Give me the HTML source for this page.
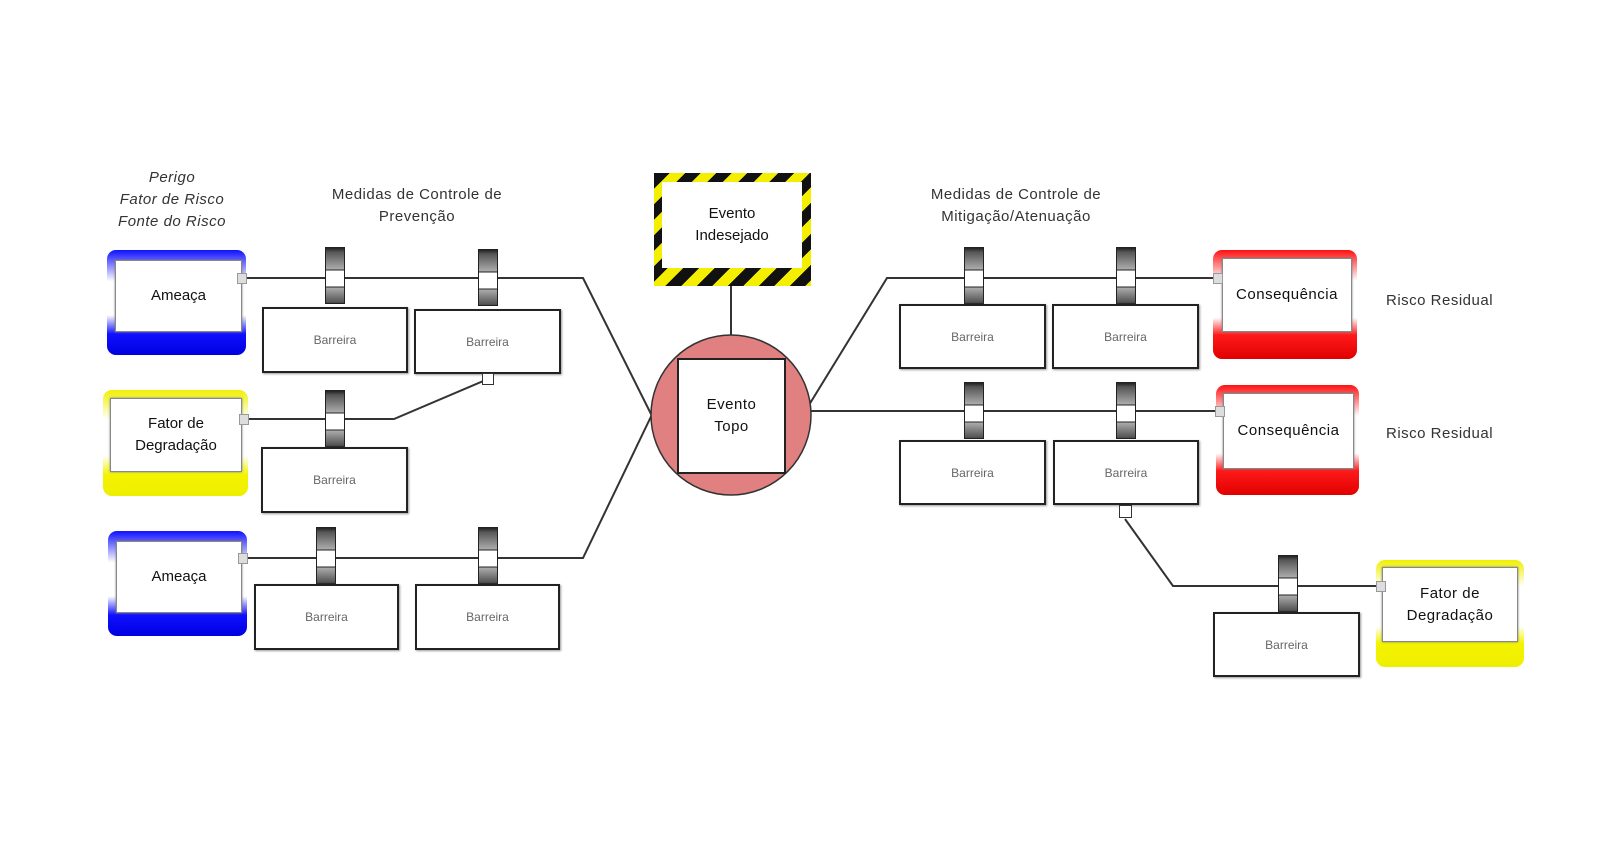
<!DOCTYPE html>
<html><head><meta charset="utf-8">
<style>
body{margin:0;width:1620px;height:850px;background:#fff;position:relative;overflow:hidden;font-family:"Liberation Sans",sans-serif;}
.a{position:absolute;}
.gb{position:absolute;border-radius:9px;box-sizing:border-box;}
.in{position:absolute;background:#fff;border:1px solid #888;box-shadow:0 0 2px #777;display:flex;align-items:center;justify-content:center;text-align:center;font-size:15px;color:#111;line-height:22px;}
.bar{position:absolute;width:20px;height:57px;box-sizing:border-box;border:1px solid #222;
background:linear-gradient(to bottom,#222 0,#555 4px,#aaa 21px,#222 22px,#fff 23px,#fff 38px,#222 39px,#aaa 40px,#555 54px,#222 57px);}
.bx{position:absolute;box-sizing:border-box;border:2px solid #222;background:#fff;box-shadow:1px 1px 2px #999;display:flex;align-items:center;justify-content:center;font-size:12px;color:#666;}
.cn{position:absolute;width:10px;height:11px;background:#ddd;border:1px solid #999;box-sizing:border-box;}
.t{position:absolute;text-align:center;font-size:15px;color:#333;line-height:22px;letter-spacing:0.5px;}
</style></head><body>
<svg class="a" style="left:0;top:0" width="1620" height="850">
<g stroke="#333" stroke-width="2" fill="none">
<polyline points="247,278 583,278 658,428"/>
<polyline points="247,558 583,558 658,402"/>
<polyline points="247,419 394,419 488,379"/>
<line x1="731" y1="286" x2="731" y2="336"/>
<polyline points="809,405 887,278 1213,278"/>
<line x1="811" y1="411" x2="1216" y2="411"/>
<polyline points="1125,519 1173,586 1376,586"/>
</g>
<ellipse cx="731" cy="415" rx="80" ry="80" fill="#e08080" stroke="#333" stroke-width="1.5"/>
<rect x="678" y="359" width="107" height="114" fill="#fff" stroke="#222" stroke-width="2"/>
</svg>

<!-- Hazard -->
<div class="a" style="left:654px;top:173px;width:157px;height:113px;background:repeating-linear-gradient(135deg,#111 0 11px,#f4ee00 11px 22px);"></div>
<div class="in" style="left:662px;top:182px;width:140px;height:86px;border:none;box-shadow:none;font-size:15px;">Evento<br>Indesejado</div>
<div class="t" style="left:678px;top:394px;width:107px;color:#111;">Evento<br>Topo</div>

<!-- Left texts -->
<div class="t" style="left:92px;top:167px;width:160px;font-style:italic;">Perigo<br>Fator de Risco<br>Fonte do Risco</div>
<div class="t" style="left:297px;top:184px;width:240px;">Medidas de Controle de<br>Prevenção</div>
<div class="t" style="left:896px;top:184px;width:240px;">Medidas de Controle de<br>Mitigação/Atenuação</div>
<div class="t" style="left:1386px;top:290px;">Risco Residual</div>
<div class="t" style="left:1386px;top:423px;">Risco Residual</div>

<!-- Ameaça 1 -->
<div class="gb" style="left:107px;top:250px;width:139px;height:105px;background:linear-gradient(#1010ff 0,#fff 30%,#fff 62%,#1010ff 80%,#0000e0 100%);"></div>
<div class="in" style="left:115px;top:260px;width:125px;height:70px;">Ameaça</div>
<div class="cn" style="left:237px;top:273px;"></div>
<!-- Fator left -->
<div class="gb" style="left:103px;top:390px;width:145px;height:106px;background:linear-gradient(#f0f000 0,#fff 28%,#fff 62%,#f4f400 80%,#eeee00 100%);"></div>
<div class="in" style="left:110px;top:398px;width:130px;height:72px;">Fator de<br>Degradação</div>
<div class="cn" style="left:239px;top:414px;"></div>
<!-- Ameaça 2 -->
<div class="gb" style="left:108px;top:531px;width:139px;height:105px;background:linear-gradient(#1010ff 0,#fff 30%,#fff 62%,#1010ff 80%,#0000e0 100%);"></div>
<div class="in" style="left:116px;top:541px;width:124px;height:70px;">Ameaça</div>
<div class="cn" style="left:238px;top:553px;"></div>

<!-- Left barriers -->
<div class="bar" style="left:325px;top:247px;"></div>
<div class="bx" style="left:262px;top:307px;width:146px;height:66px;">Barreira</div>
<div class="bar" style="left:478px;top:249px;"></div>
<div class="bx" style="left:414px;top:309px;width:147px;height:65px;">Barreira</div>
<div class="a" style="left:482px;top:373px;width:12px;height:12px;border:1.5px solid #333;background:#fff;box-sizing:border-box;"></div>
<div class="bar" style="left:325px;top:390px;"></div>
<div class="bx" style="left:261px;top:447px;width:147px;height:66px;">Barreira</div>
<div class="bar" style="left:316px;top:527px;"></div>
<div class="bx" style="left:254px;top:584px;width:145px;height:66px;">Barreira</div>
<div class="bar" style="left:478px;top:527px;"></div>
<div class="bx" style="left:415px;top:584px;width:145px;height:66px;">Barreira</div>

<!-- Right barriers -->
<div class="bar" style="left:964px;top:247px;"></div>
<div class="bx" style="left:899px;top:304px;width:147px;height:65px;">Barreira</div>
<div class="bar" style="left:1116px;top:247px;"></div>
<div class="bx" style="left:1052px;top:304px;width:147px;height:65px;">Barreira</div>
<div class="bar" style="left:964px;top:382px;"></div>
<div class="bx" style="left:899px;top:440px;width:147px;height:65px;">Barreira</div>
<div class="bar" style="left:1116px;top:382px;"></div>
<div class="bx" style="left:1053px;top:440px;width:146px;height:65px;">Barreira</div>
<div class="a" style="left:1119px;top:505px;width:13px;height:13px;border:1.5px solid #333;background:#fff;box-sizing:border-box;"></div>
<div class="bar" style="left:1278px;top:555px;"></div>
<div class="bx" style="left:1213px;top:612px;width:147px;height:65px;">Barreira</div>

<!-- Consequências -->
<div class="gb" style="left:1213px;top:250px;width:144px;height:109px;background:linear-gradient(#ff1010 0,#fff 28%,#fff 62%,#ff1a1a 78%,#e00000 100%);"></div>
<div class="in" style="left:1222px;top:258px;width:128px;height:72px;letter-spacing:0.5px;">Consequência</div>
<div class="cn" style="left:1213px;top:273px;"></div>
<div class="gb" style="left:1216px;top:385px;width:143px;height:110px;background:linear-gradient(#ff1010 0,#fff 28%,#fff 62%,#ff1a1a 78%,#e00000 100%);"></div>
<div class="in" style="left:1223px;top:393px;width:129px;height:74px;letter-spacing:0.5px;">Consequência</div>
<div class="cn" style="left:1215px;top:406px;"></div>
<!-- Fator right -->
<div class="gb" style="left:1376px;top:560px;width:148px;height:107px;background:linear-gradient(#f0f000 0,#fff 25%,#fff 62%,#f4f400 78%,#eeee00 100%);"></div>
<div class="in" style="left:1382px;top:567px;width:134px;height:73px;letter-spacing:0.5px;">Fator de<br>Degradação</div>
<div class="cn" style="left:1376px;top:581px;"></div>
</body></html>
